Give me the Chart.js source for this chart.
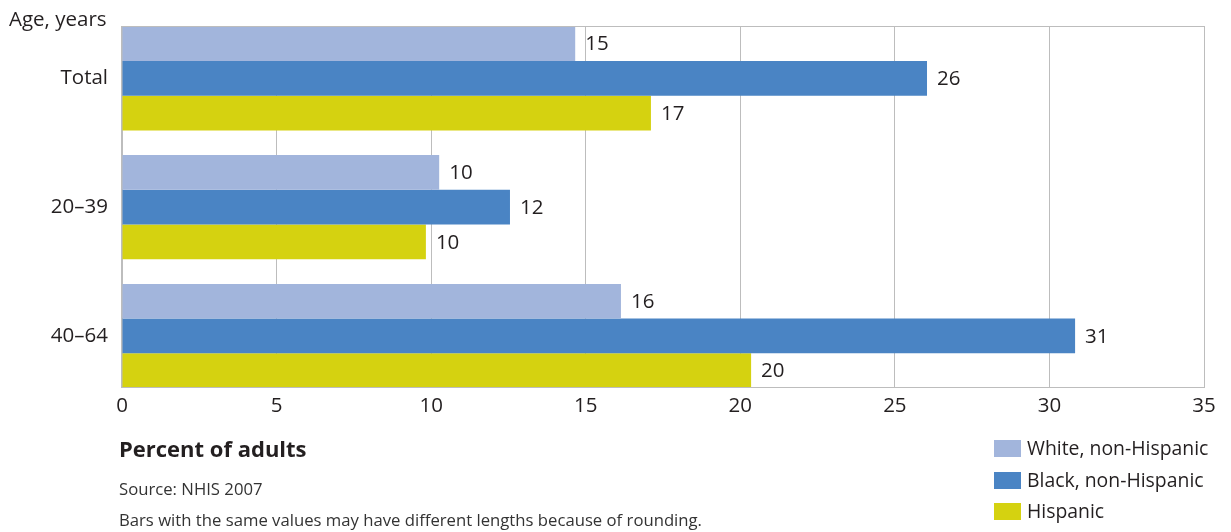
<!DOCTYPE html>
<html>
<head>
<meta charset="utf-8">
<script src="https://cdn.jsdelivr.net/npm/chart.js@4/dist/chart.umd.min.js"></script>
<style>
  html, body { margin: 0; padding: 0; background: #fff; }
  #wrap { position: relative; width: 1231px; height: 532px; }
</style>
</head>
<body>
<div id="wrap"><canvas id="chart" width="1231" height="532"></canvas></div>
<script>
// Data
const ageGroups = ['Total', '20–39', '40–64'];
const seriesNames = ['White, non-Hispanic', 'Black, non-Hispanic', 'Hispanic'];
const whiteValues = [14.66, 10.26, 16.14];
const blackValues = [26.04, 12.55, 30.83];
const hispanicValues = [17.11, 9.83, 20.35];
const whiteLabels = ['15', '10', '16'];
const blackLabels = ['26', '12', '31'];
const hispanicLabels = ['17', '10', '20'];
const xTicks = [0, 5, 10, 15, 20, 25, 30, 35];

const colors = ['#a2b5dc', '#4a84c4', '#d5d210'];
const FONT = '"Open Sans", "Noto Sans", sans-serif';
const textColor = '#231f20';

function points(values) {
  return values.map((v, i) => ({ x: v, y: i }));
}

// draws value labels, the frame, legend and notes
const extras = {
  id: 'extras',
  afterDatasetsDraw(chart) {
    const ctx = chart.ctx;
    const area = chart.chartArea;
    const allLabels = [whiteLabels, blackLabels, hispanicLabels];

    ctx.save();
    ctx.fillStyle = textColor;
    ctx.font = '20.5px ' + FONT;
    ctx.textBaseline = 'middle';
    ctx.textAlign = 'left';
    chart.data.datasets.forEach((ds, di) => {
      chart.getDatasetMeta(di).data.forEach((bar, i) => {
        ctx.fillText(allLabels[di][i], bar.x + 10, bar.y + 1);
      });
    });

    // frame
    ctx.strokeStyle = '#bdbdbd';
    ctx.lineWidth = 1;
    ctx.strokeRect(Math.round(area.left) - 0.5, Math.round(area.top) + 0.5,
      Math.round(area.right - area.left) + 1, Math.round(area.bottom - area.top) - 1);

    // y-axis title
    ctx.fillStyle = textColor;
    ctx.font = '20.5px ' + FONT;
    ctx.fillText('Age, years', 9, 20);

    // x-axis title and notes
    ctx.font = 'bold 22px ' + FONT;
    ctx.fillText('Percent of adults', 119, 451);
    ctx.font = '16.7px ' + FONT;
    ctx.fillStyle = '#333';
    ctx.fillText('Source: NHIS 2007', 119, 490);
    ctx.fillText('Bars with the same values may have different lengths because of rounding.', 119, 521);

    // legend
    const rows = [449, 481, 512];
    ctx.font = '19.4px ' + FONT;
    seriesNames.forEach((name, i) => {
      ctx.fillStyle = colors[i];
      ctx.fillRect(994, rows[i] - 9, 27, 17);
      ctx.fillStyle = textColor;
      ctx.fillText(name, 1027, rows[i]);
    });
    ctx.restore();
  }
};

new Chart(document.getElementById('chart'), {
  type: 'bar',
  data: {
    datasets: [
      { label: seriesNames[0], data: points(whiteValues), backgroundColor: colors[0] },
      { label: seriesNames[1], data: points(blackValues), backgroundColor: colors[1] },
      { label: seriesNames[2], data: points(hispanicValues), backgroundColor: colors[2] }
    ]
  },
  options: {
    indexAxis: 'y',
    responsive: false,
    animation: false,
    devicePixelRatio: 1,
    layout: { padding: { left: 0, top: 24, right: 27, bottom: 104 } },
    datasets: { bar: { categoryPercentage: 0.808, barPercentage: 1.0 } },
    plugins: { legend: { display: false }, tooltip: { enabled: false } },
    scales: {
      x: {
        type: 'linear',
        min: 0,
        max: 35,
        afterFit: s => { s.height = 40; },
        afterBuildTicks: s => { s.ticks = xTicks.map(v => ({ value: v })); },
        border: { display: false },
        grid: { color: '#bdbdbd', drawTicks: false },
        ticks: { padding: 6, color: textColor, font: { family: FONT, size: 20.5 } }
      },
      y: {
        type: 'linear',
        offset: false,
        bounds: 'data',
        min: -0.404,
        max: 2.404,
        reverse: true,
        afterFit: s => { s.width = 122; },
        afterBuildTicks: s => { s.ticks = ageGroups.map((g, i) => ({ value: i })); },
        border: { display: false },
        grid: { display: false, offset: false, drawTicks: false },
        ticks: {
          padding: 14,
          color: textColor,
          font: { family: FONT, size: 20.5 },
          callback: v => ageGroups[v]
        }
      }
    }
  },
  plugins: [extras]
});
</script>
</body>
</html>
